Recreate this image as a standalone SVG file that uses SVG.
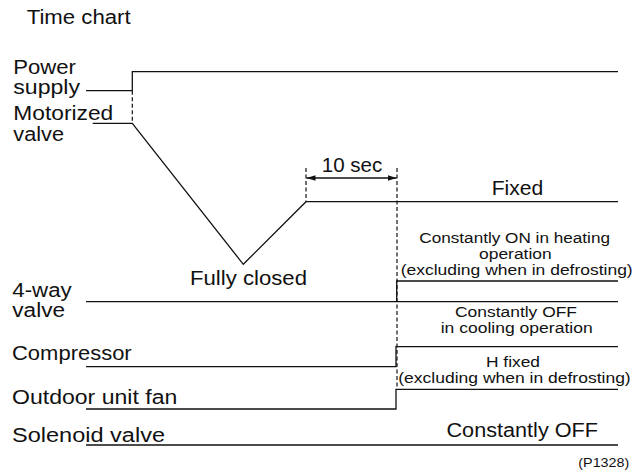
<svg xmlns="http://www.w3.org/2000/svg" width="635" height="473" viewBox="0 0 635 473">
<defs>
<style>
.t{font-family:"Liberation Sans",Arial,sans-serif;font-size:19.5px;fill:#111}
.s{font-family:"Liberation Sans",Arial,sans-serif;font-size:15.3px;fill:#111}
.xs{font-family:"Liberation Sans",Arial,sans-serif;font-size:13.5px;fill:#111}
.w{fill:none;stroke:#111;stroke-width:1.3}
.d{fill:none;stroke:#111;stroke-width:1.2;stroke-dasharray:4 2.5}
</style>
<marker id="ah" markerWidth="10" markerHeight="8" refX="9" refY="4" orient="auto-start-reverse" markerUnits="userSpaceOnUse">
<path d="M0,1.2 L9,4 L0,6.8 Z" fill="#111"/>
</marker>
</defs>
<rect width="635" height="473" fill="#fff"/>
<text class="t" x="26.7" y="24.3" textLength="104" lengthAdjust="spacingAndGlyphs">Time chart</text>

<g id="power-supply">
<text class="t" x="13.3" y="74" textLength="62.7" lengthAdjust="spacingAndGlyphs">Power</text>
<text class="t" x="13.3" y="94" textLength="66.7" lengthAdjust="spacingAndGlyphs">supply</text>
<polyline class="w" points="86,90.7 132.3,90.7 132.3,71.7 618,71.7"/>
</g>

<g id="motorized-valve">
<text class="t" x="13.3" y="120" textLength="100" lengthAdjust="spacingAndGlyphs">Motorized</text>
<text class="t" x="13.3" y="140.7" textLength="50.7" lengthAdjust="spacingAndGlyphs">valve</text>
<polyline class="w" points="92.7,123.3 132.3,123.3 243.3,264.3 306,201.7 618,201.7"/>
<text class="t" x="190" y="285" textLength="117" lengthAdjust="spacingAndGlyphs">Fully closed</text>
<text class="t" x="491.7" y="195" textLength="51.6" lengthAdjust="spacingAndGlyphs">Fixed</text>
</g>

<g id="four-way-valve">
<text class="t" x="12.3" y="296.7" textLength="59.4" lengthAdjust="spacingAndGlyphs">4-way</text>
<text class="t" x="12.3" y="317.3" textLength="52.7" lengthAdjust="spacingAndGlyphs">valve</text>
<line class="w" x1="86" y1="301.7" x2="618" y2="301.7"/>
<polyline class="w" points="396.7,301.7 396.7,281 618,281"/>
<text class="s" x="419.3" y="243.3" textLength="190.7" lengthAdjust="spacingAndGlyphs">Constantly ON in heating</text>
<text class="s" x="479" y="259" textLength="72.7" lengthAdjust="spacingAndGlyphs">operation</text>
<text class="s" x="400.7" y="275" textLength="232" lengthAdjust="spacingAndGlyphs">(excluding when in defrosting)</text>
<text class="s" x="455" y="317.3" textLength="122" lengthAdjust="spacingAndGlyphs">Constantly OFF</text>
<text class="s" x="440.7" y="332.8" textLength="152" lengthAdjust="spacingAndGlyphs">in cooling operation</text>
</g>

<g id="compressor">
<text class="t" x="12" y="360" textLength="119.7" lengthAdjust="spacingAndGlyphs">Compressor</text>
<polyline class="w" points="86,366.7 396,366.7 396,346.7 618,346.7"/>
</g>

<g id="outdoor-unit-fan">
<text class="t" x="12" y="404" textLength="165.3" lengthAdjust="spacingAndGlyphs">Outdoor unit fan</text>
<polyline class="w" points="86,409 396,409 396,389.3 618,389.3"/>
<text class="s" x="486" y="367.3" textLength="54" lengthAdjust="spacingAndGlyphs">H fixed</text>
<text class="s" x="398.3" y="382.7" textLength="232.4" lengthAdjust="spacingAndGlyphs">(excluding when in defrosting)</text>
</g>

<g id="solenoid-valve">
<text class="t" x="12" y="441.5" textLength="153" lengthAdjust="spacingAndGlyphs">Solenoid valve</text>
<line class="w" x1="86" y1="445" x2="618" y2="445"/>
<text class="t" x="446.5" y="436.5" textLength="151.5" lengthAdjust="spacingAndGlyphs">Constantly OFF</text>
</g>

<g id="connectors">
<line class="d" x1="132.3" y1="90.7" x2="132.3" y2="123.3"/>
<line class="d" x1="306" y1="168" x2="306" y2="201.7"/>
<line class="d" x1="397" y1="168" x2="397" y2="389"/>
<line class="w" x1="306.5" y1="178" x2="396.5" y2="178" marker-start="url(#ah)" marker-end="url(#ah)"/>
<text class="t" x="321.7" y="171.7" textLength="60.6" lengthAdjust="spacingAndGlyphs">10 sec</text>
</g>

<text class="xs" x="578.3" y="466.5" textLength="51" lengthAdjust="spacingAndGlyphs">(P1328)</text>
</svg>
